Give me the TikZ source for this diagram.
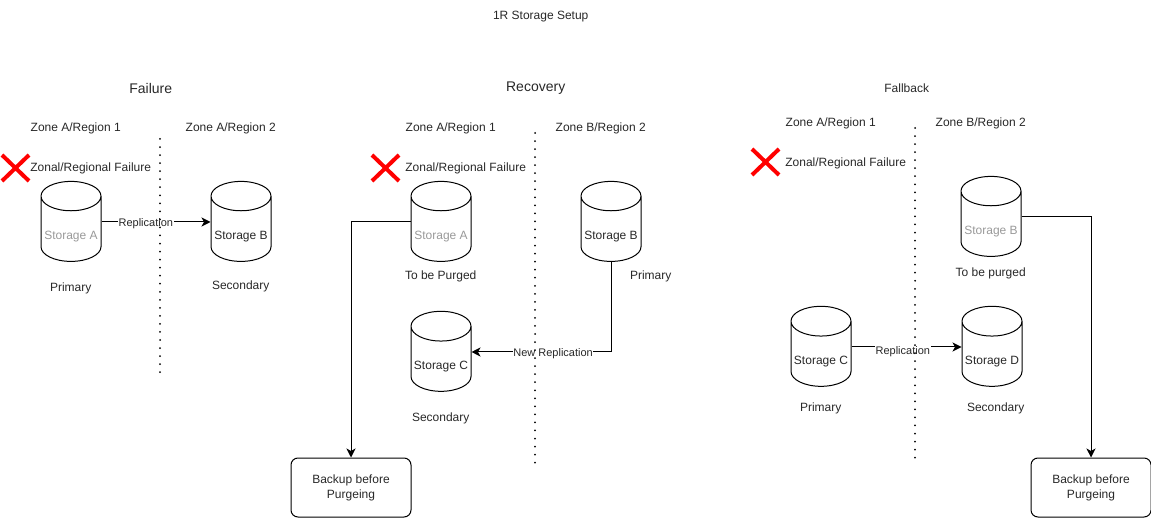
\documentclass[tikz,border=0pt]{standalone}
\usepackage{fontspec}
\setmainfont{Liberation Sans}
\usetikzlibrary{shapes.geometric}
\usetikzlibrary{arrows.meta}
\definecolor{purgedgray}{RGB}{153,153,153}
\definecolor{textgray}{RGB}{40,40,40}
\tikzset{
  storage/.style={draw=black, cylinder, shape border rotate=90, shape aspect=0.55, minimum width=60pt, minimum height=80pt, inner sep=0pt, text height=22pt, text depth=0pt, yshift=-7pt, text=textgray, font=\fontsize{12}{14}\selectfont},
  purged/.style={storage, text=purgedgray},
  backup/.style={draw=black, rounded corners=7pt, minimum width=120pt, minimum height=59pt, align=center, text=textgray, font=\fontsize{12}{15}\selectfont},
  lab/.style={text=textgray, font=\fontsize{12}{14}\selectfont, inner sep=0pt, xshift=0.7pt, yshift=-1.3pt},
  linklab/.style={lab, fill=white, inner sep=0.5pt, font=\fontsize{11}{13}\selectfont},
  head/.style={lab, font=\fontsize{14}{16}\selectfont},
  zoneline/.style={line width=2pt, line cap=round, dash pattern=on 0pt off 8.04pt},
  redcross/.style={draw=red, line width=4pt},
  link/.style={->, >={Stealth[length=9pt,width=9pt,inset=2.5pt]}}
}

\begin{document}
\begin{tikzpicture}[x=1pt, y=-1pt, line width=1pt]
   \useasboundingbox (0,0) rectangle (1151,518);
   \node[lab] (title) at (540,15) {1R Storage Setup};

   % failure
   \node[head] (failhead) at (150,87) {Failure};
   \node[lab] (failzonea) at (75,127) {Zone A/Region 1};
   \node[lab] (failzoneb) at (230,127) {Zone A/Region 2};
   \node[lab] (failnote) at (90,167) {Zonal/Regional Failure};
   \node[purged] (failA) at (71,222) {Storage A};
   \node[storage] (failB) at (241,222) {Storage B};
   \node[lab] (failprim) at (70,287) {Primary};
   \node[lab] (failsec) at (240,285) {Secondary};
   \draw[link] (failA.east |- 0,222) -- node[linklab, pos=0.4] (failrep) {Replication} (failB.west |- 0,222);
   \coordinate (failtop) at (160,139);
   \coordinate (failbot) at (160,374);
   \draw[zoneline] (failtop) -- (failbot);
   \coordinate (x1a) at (2,155);
   \coordinate (x1b) at (29,181);
   \coordinate (x1c) at (2,181);
   \coordinate (x1d) at (29,155);
   \draw[redcross] (x1a) -- (x1b);
   \draw[redcross] (x1c) -- (x1d);

   % recovery
   \node[head] (recohead) at (535,87) {Recovery};
   \node[lab] (recozonea) at (450,127) {Zone A/Region 1};
   \node[lab] (recozoneb) at (600,127) {Zone B/Region 2};
   \node[lab] (reconote) at (465,167) {Zonal/Regional Failure};
   \node[purged] (recoA) at (441,222) {Storage A};
   \node[storage] (recoB) at (611,222) {Storage B};
   \node[storage] (recoC) at (441,352) {Storage C};
   \node[lab] (recopurge) at (440,275) {To be Purged};
   \node[lab] (recoprim) at (650,275) {Primary};
   \node[lab] (recosec) at (440,417) {Secondary};
   \node[backup] (recoback) at (351,487.5) {Backup before\\Purgeing};
   \draw[link] (recoA.west |- 0,222) -- (351,222) -- (recoback.north);
   \draw[link] (recoB.south) -- (611,352) -- node[linklab, pos=0.42] (recorep) {New Replication} (recoC.east |- 0,352);
   \coordinate (recotop) at (535,133);
   \coordinate (recobot) at (535,463);
   \draw[zoneline] (recotop) -- (recobot);
   \coordinate (x2a) at (372,155);
   \coordinate (x2b) at (399,181);
   \coordinate (x2c) at (372,181);
   \coordinate (x2d) at (399,155);
   \draw[redcross] (x2a) -- (x2b);
   \draw[redcross] (x2c) -- (x2d);

   % fallback
   \node[lab] (fallhead) at (906,87) {Fallback};
   \node[lab] (fallzonea) at (830,122) {Zone A/Region 1};
   \node[lab] (fallzoneb) at (980,122) {Zone B/Region 2};
   \node[lab] (fallnote) at (845,162) {Zonal/Regional Failure};
   \node[purged] (fallB) at (991,217) {Storage B};
   \node[storage] (fallC) at (821,347) {Storage C};
   \node[storage] (fallD) at (992,347) {Storage D};
   \node[lab] (fallpurge) at (990,272) {To be purged};
   \node[lab] (fallprim) at (820,407) {Primary};
   \node[lab] (fallsec) at (995,407) {Secondary};
   \node[backup] (fallback) at (1091,487.5) {Backup before\\Purgeing};
   \draw[link] (fallB.east |- 0,217) -- (1091,217) -- (fallback.north);
   \draw[link] (fallC.east |- 0,347) -- node[linklab, pos=0.46, yshift=-3pt] (fallrep) {Replication} (fallD.west |- 0,347);
   \coordinate (falltop) at (915,128);
   \coordinate (fallbot) at (915,458);
   \draw[zoneline] (falltop) -- (fallbot);
   \coordinate (x3a) at (752,149);
   \coordinate (x3b) at (779,175);
   \coordinate (x3c) at (752,175);
   \coordinate (x3d) at (779,149);
   \draw[redcross] (x3a) -- (x3b);
   \draw[redcross] (x3c) -- (x3d);
\end{tikzpicture}
\end{document}
